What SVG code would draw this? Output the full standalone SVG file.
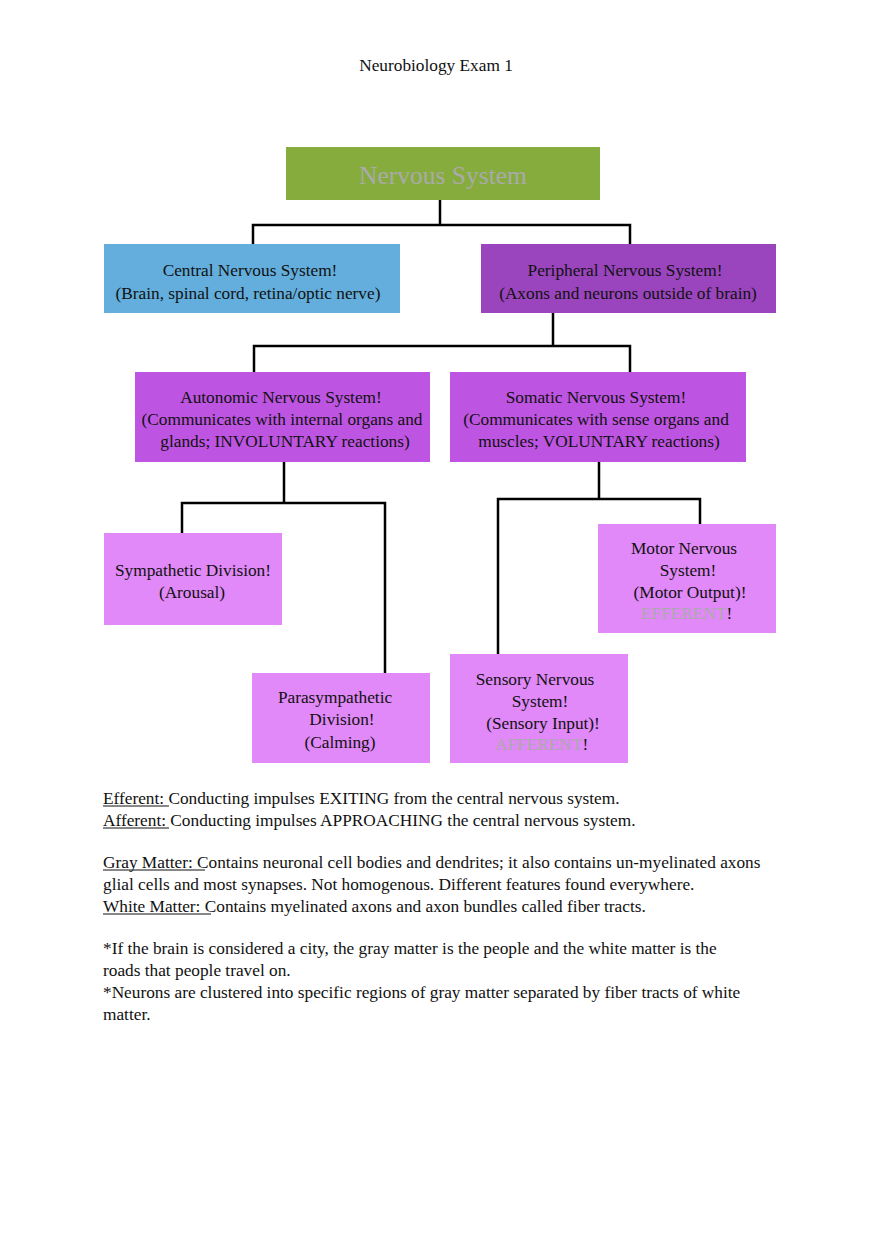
<svg xmlns="http://www.w3.org/2000/svg" width="880" height="1247" viewBox="0 0 880 1247">
<style>
text{font-family:"Liberation Serif","Times New Roman",serif;font-size:17.3px;fill:#111}
.c{text-anchor:middle}
.g{fill:#aaaaaa}
.k{fill:#111}
.ln{stroke:#000;stroke-width:2.5;fill:none}
.u{stroke:#111;stroke-width:1}
</style>
<rect width="880" height="1247" fill="#fff"/>
<text class="c" x="436" y="71">Neurobiology Exam 1</text>
<g id="connectors">
<path class="ln" d="M440 200V225M253 244V225H630V244"/>
<path class="ln" d="M553 313V346M254 372V346H630V372"/>
<path class="ln" d="M284 462V503M182 533V503H385V673"/>
<path class="ln" d="M599 462V499M498 654V499H700V524"/>
</g>
<g id="nervous-system">
<rect x="286" y="147" width="314" height="53" fill="#86AC3E"/>
<text class="c g" x="443" y="184" style="font-size:25.5px">Nervous System</text>
</g>
<g id="cns">
<rect x="104" y="244" width="296" height="69" fill="#63AEDC"/>
<text class="c" x="250" y="276">Central Nervous System!</text>
<text class="c" x="248" y="299">(Brain, spinal cord, retina/optic nerve)</text>
</g>
<g id="pns">
<rect x="481" y="244" width="295" height="69" fill="#9A45BE"/>
<text class="c" x="625" y="276">Peripheral Nervous System!</text>
<text class="c" x="628" y="299">(Axons and neurons outside of brain)</text>
</g>
<g id="autonomic">
<rect x="135" y="372" width="295" height="90" fill="#BE55E2"/>
<text class="c" x="281" y="403">Autonomic Nervous System!</text>
<text class="c" x="282" y="425">(Communicates with internal organs and</text>
<text class="c" x="285" y="447">glands; INVOLUNTARY reactions)</text>
</g>
<g id="somatic">
<rect x="450" y="372" width="296" height="90" fill="#BE55E2"/>
<text class="c" x="596" y="403">Somatic Nervous System!</text>
<text class="c" x="596" y="425">(Communicates with sense organs and</text>
<text class="c" x="599" y="447">muscles; VOLUNTARY reactions)</text>
</g>
<g id="sympathetic">
<rect x="104" y="533" width="178" height="92" fill="#E189F8"/>
<text class="c" x="193" y="576">Sympathetic Division!</text>
<text class="c" x="192" y="598">(Arousal)</text>
</g>
<g id="motor">
<rect x="598" y="524" width="178" height="109" fill="#E189F8"/>
<text class="c" x="684" y="554">Motor Nervous</text>
<text class="c" x="688" y="576">System!</text>
<text class="c" x="690" y="598">(Motor Output)!</text>
<text x="641" y="619"><tspan class="g">EFFERENT</tspan><tspan class="k">!</tspan></text>
</g>
<g id="parasympathetic">
<rect x="252" y="673" width="178" height="90" fill="#E189F8"/>
<text class="c" x="335" y="703">Parasympathetic</text>
<text class="c" x="342" y="725">Division!</text>
<text class="c" x="340" y="748">(Calming)</text>
</g>
<g id="sensory">
<rect x="450" y="654" width="178" height="109" fill="#E189F8"/>
<text class="c" x="535" y="685">Sensory Nervous</text>
<text class="c" x="540" y="707">System!</text>
<text class="c" x="543" y="729">(Sensory Input)!</text>
<text x="495" y="750"><tspan class="g">AFFERENT</tspan><tspan class="k">!</tspan></text>
</g>
<g id="notes">
<text x="103" y="804">Efferent: Conducting impulses EXITING from the central nervous system.</text>
<line class="u" x1="103" y1="806" x2="169" y2="806"/>
<text x="103" y="826">Afferent: Conducting impulses APPROACHING the central nervous system.</text>
<line class="u" x1="103" y1="828" x2="169" y2="828"/>
<text x="103" y="868">Gray Matter: Contains neuronal cell bodies and dendrites; it also contains un-myelinated axons</text>
<line class="u" x1="103" y1="870" x2="205" y2="870"/>
<text x="103" y="890">glial cells and most synapses. Not homogenous. Different features found everywhere.</text>
<text x="103" y="912">White Matter: Contains myelinated axons and axon bundles called fiber tracts.</text>
<line class="u" x1="103" y1="914" x2="211" y2="914"/>
<text x="103" y="954">*If the brain is considered a city, the gray matter is the people and the white matter is the</text>
<text x="103" y="976">roads that people travel on.</text>
<text x="103" y="998">*Neurons are clustered into specific regions of gray matter separated by fiber tracts of white</text>
<text x="103" y="1020">matter.</text>
</g>
</svg>
